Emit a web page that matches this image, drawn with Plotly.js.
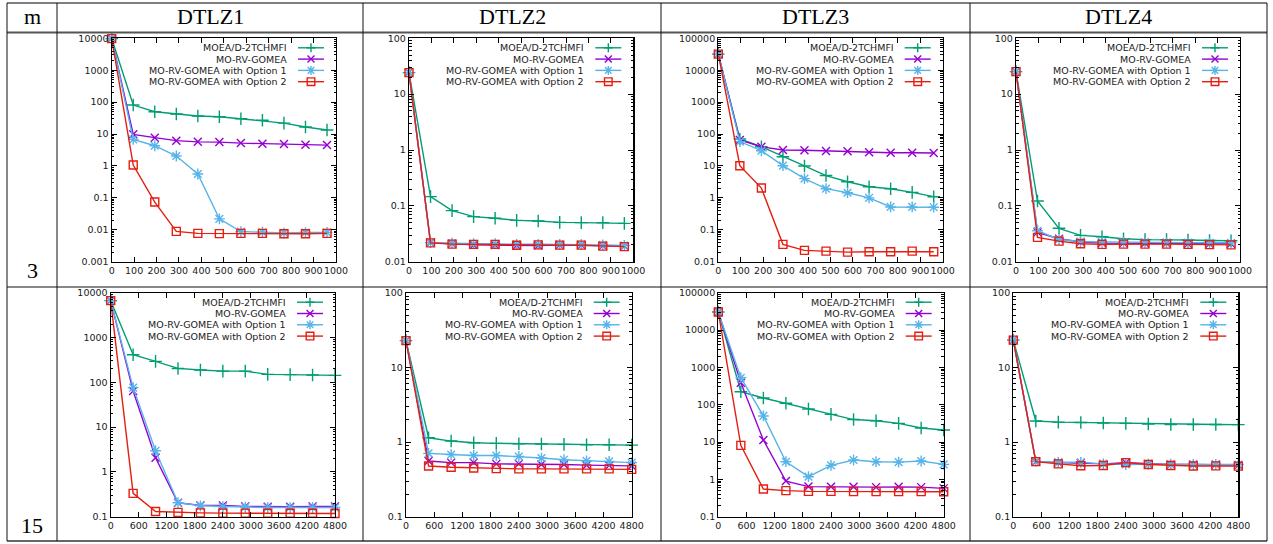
<!DOCTYPE html>
<html><head><meta charset="utf-8">
<script src="https://cdn.plot.ly/plotly-3.0.1.min.js"></script>
<style>html,body{margin:0;padding:0;background:#fff;} #chart{width:1273px;height:544px;}</style>
</head><body><div id="chart"></div>
<script>
// ---------------- DATA ----------------
const problems = ['DTLZ1', 'DTLZ2', 'DTLZ3', 'DTLZ4'];
const mValues = ['3', '15'];
const seriesNames = ['MOEA/D-2TCHMFI', 'MO-RV-GOMEA', 'MO-RV-GOMEA with Option 1', 'MO-RV-GOMEA with Option 2'];

const evalsM3  = [0, 96, 192, 288, 384, 480, 576, 672, 768, 864, 960];
const evalsM15 = [0, 480, 960, 1440, 1920, 2400, 2880, 3360, 3840, 4320, 4800];
const xTicksM3  = [0, 100, 200, 300, 400, 500, 600, 700, 800, 900, 1000];
const xTicksM15 = [0, 600, 1200, 1800, 2400, 3000, 3600, 4200, 4800];

const yTicksD1m3  = [0.001, 0.01, 0.1, 1, 10, 100, 1000, 10000];
const yTicksD2m3  = [0.01, 0.1, 1, 10, 100];
const yTicksD3m3  = [0.01, 0.1, 1, 10, 100, 1000, 10000, 100000];
const yTicksD4m3  = [0.01, 0.1, 1, 10, 100];
const yTicksD1m15 = [0.1, 1, 10, 100, 1000, 10000];
const yTicksD2m15 = [0.1, 1, 10, 100];
const yTicksD3m15 = [0.1, 1, 10, 100, 1000, 10000, 100000];
const yTicksD4m15 = [0.1, 1, 10, 100];

// DTLZ1, m = 3
const d1m3_moead = [9800, 81, 50, 42.5, 36.7, 35, 30, 27, 22, 16.6, 13.4];
const d1m3_gomea = [9800, 9.8, 7.7, 6.2, 5.7, 5.6, 5.2, 5.0, 4.9, 4.6, 4.5];
const d1m3_opt1  = [9800, 6.8, 4.3, 2.05, 0.56, 0.022, 0.0088, 0.0084, 0.0079, 0.0082, 0.0083];
const d1m3_opt2  = [9800, 1.07, 0.074, 0.0089, 0.0077, 0.0076, 0.0077, 0.0077, 0.0075, 0.0075, 0.0077];
// DTLZ2, m = 3
const d2m3_moead = [24.3, 0.146, 0.082, 0.064, 0.060, 0.055, 0.0535, 0.0506, 0.050, 0.050, 0.0486];
const d2m3_gomea = [24.3, 0.022, 0.021, 0.020, 0.0198, 0.0195, 0.0195, 0.0198, 0.0198, 0.0192, 0.019];
const d2m3_opt1  = [24.3, 0.022, 0.0215, 0.021, 0.021, 0.0205, 0.0205, 0.0205, 0.0205, 0.020, 0.0195];
const d2m3_opt2  = [24.3, 0.0217, 0.0206, 0.0204, 0.0204, 0.0197, 0.020, 0.0198, 0.0198, 0.019, 0.0186];
// DTLZ3, m = 3
const d3m3_moead = [32000, 70, 40, 19.5, 10, 5.0, 3.2, 2.24, 1.94, 1.49, 1.09];
const d3m3_gomea = [32000, 65, 40, 31.7, 31, 29.4, 28.7, 26.7, 26, 26, 25.4];
const d3m3_opt1  = [32000, 58, 30, 10.2, 4.0, 1.94, 1.45, 1.0, 0.52, 0.52, 0.51];
const d3m3_opt2  = [32000, 10.2, 2.03, 0.035, 0.0226, 0.0215, 0.020, 0.0205, 0.0205, 0.0215, 0.0205];
// DTLZ4, m = 3
const d4m3_moead = [25.3, 0.122, 0.0396, 0.0296, 0.028, 0.0258, 0.0248, 0.0248, 0.0245, 0.024, 0.0237];
const d4m3_gomea = [25.3, 0.0335, 0.0258, 0.0225, 0.0215, 0.0215, 0.0213, 0.0213, 0.021, 0.021, 0.021];
const d4m3_opt1  = [25.3, 0.0359, 0.025, 0.023, 0.0225, 0.0225, 0.0225, 0.0222, 0.022, 0.0218, 0.0218];
const d4m3_opt2  = [25.3, 0.0273, 0.0234, 0.021, 0.0204, 0.0206, 0.0206, 0.0206, 0.0204, 0.0202, 0.020];
// DTLZ1, m = 15
const d1m15_moead = [6640, 413, 293, 204, 188, 178, 178, 150, 148, 145, 143];
const d1m15_gomea = [6640, 64, 2.07, 0.205, 0.179, 0.179, 0.17, 0.167, 0.167, 0.17, 0.17];
const d1m15_opt1  = [6640, 76, 2.97, 0.205, 0.175, 0.167, 0.164, 0.16, 0.16, 0.16, 0.16];
const d1m15_opt2  = [6640, 0.332, 0.131, 0.125, 0.122, 0.12, 0.12, 0.119, 0.119, 0.119, 0.118];
// DTLZ2, m = 15
const d2m15_moead = [22.8, 1.14, 1.03, 0.98, 0.96, 0.95, 0.94, 0.93, 0.92, 0.92, 0.91];
const d2m15_gomea = [22.8, 0.557, 0.53, 0.53, 0.51, 0.51, 0.50, 0.50, 0.49, 0.485, 0.48];
const d2m15_opt1  = [22.8, 0.705, 0.68, 0.66, 0.66, 0.64, 0.61, 0.58, 0.56, 0.55, 0.53];
const d2m15_opt2  = [22.8, 0.477, 0.46, 0.45, 0.44, 0.437, 0.437, 0.437, 0.437, 0.437, 0.43];
// DTLZ3, m = 15
const d3m15_moead = [30300, 223, 151, 109, 77, 55, 40, 37, 31.6, 23.7, 21];
const d3m15_gomea = [30300, 388, 11.3, 0.90, 0.64, 0.63, 0.63, 0.62, 0.63, 0.62, 0.574];
const d3m15_opt1  = [30300, 528, 50, 2.97, 1.18, 2.37, 3.3, 2.97, 2.9, 3.1, 2.52];
const d3m15_opt2  = [30300, 8.15, 0.55, 0.50, 0.477, 0.477, 0.47, 0.47, 0.47, 0.47, 0.465];
// DTLZ4, m = 15
const d4m15_moead = [23.2, 1.91, 1.85, 1.83, 1.80, 1.78, 1.74, 1.72, 1.72, 1.72, 1.71];
const d4m15_gomea = [23.2, 0.546, 0.53, 0.525, 0.51, 0.53, 0.51, 0.50, 0.50, 0.50, 0.49];
const d4m15_opt1  = [23.2, 0.55, 0.535, 0.535, 0.51, 0.50, 0.505, 0.505, 0.50, 0.50, 0.50];
const d4m15_opt2  = [23.2, 0.546, 0.51, 0.482, 0.485, 0.53, 0.50, 0.485, 0.477, 0.48, 0.475];

// ---------------- LAYOUT HELPERS ----------------
const W = 1273, H = 544;
const fx = p => p / W;
const fy = p => 1 - p / H;
const colors = ['#009e73', '#9400d3', '#56b4e9', '#e51e10'];
const symbols = ['cross-thin-open', 'x-thin-open', 'asterisk-open', 'square-open'];
const msizes = [9, 8, 9, 8];
const tickFont = {family: 'DejaVu Sans', size: 9.5, color: '#1a1a1a'};

const panels = [
  {row: 0, col: 0, frame: [111.7, 336, 38.3, 261.7], xs: evalsM3, xt: xTicksM3, xr: [0, 1000], yt: yTicksD1m3, ys: [d1m3_moead, d1m3_gomea, d1m3_opt1, d1m3_opt2]},
  {row: 0, col: 1, frame: [409, 633.3, 38.3, 261.7], xs: evalsM3, xt: xTicksM3, xr: [0, 1000], yt: yTicksD2m3, ys: [d2m3_moead, d2m3_gomea, d2m3_opt1, d2m3_opt2]},
  {row: 0, col: 2, frame: [718.3, 942.7, 38.3, 261.7], xs: evalsM3, xt: xTicksM3, xr: [0, 1000], yt: yTicksD3m3, ys: [d3m3_moead, d3m3_gomea, d3m3_opt1, d3m3_opt2]},
  {row: 0, col: 3, frame: [1016, 1240, 38.3, 261.7], xs: evalsM3, xt: xTicksM3, xr: [0, 1000], yt: yTicksD4m3, ys: [d4m3_moead, d4m3_gomea, d4m3_opt1, d4m3_opt2]},
  {row: 1, col: 0, frame: [110.7, 335, 292.7, 516.7], xs: evalsM15, xt: xTicksM15, xr: [0, 4800], yt: yTicksD1m15, ys: [d1m15_moead, d1m15_gomea, d1m15_opt1, d1m15_opt2]},
  {row: 1, col: 1, frame: [406, 631.7, 292.7, 516.7], xs: evalsM15, xt: xTicksM15, xr: [0, 4800], yt: yTicksD2m15, ys: [d2m15_moead, d2m15_gomea, d2m15_opt1, d2m15_opt2]},
  {row: 1, col: 2, frame: [718.3, 943.7, 292.7, 516.7], xs: evalsM15, xt: xTicksM15, xr: [0, 4800], yt: yTicksD3m15, ys: [d3m15_moead, d3m15_gomea, d3m15_opt1, d3m15_opt2]},
  {row: 1, col: 3, frame: [1013.3, 1238.3, 292.7, 516.7], xs: evalsM15, xt: xTicksM15, xr: [0, 4800], yt: yTicksD4m15, ys: [d4m15_moead, d4m15_gomea, d4m15_opt1, d4m15_opt2]}
];

const traces = [];
const layout = {
  width: W, height: H,
  margin: {l: 0, r: 0, t: 0, b: 0},
  paper_bgcolor: '#ffffff', plot_bgcolor: '#ffffff',
  showlegend: false,
  shapes: [], annotations: []
};

const markerPaths = [
  'M-4.5,0H4.5M0,-4.5V4.5',
  'M-3.5,-3.5L3.5,3.5M-3.5,3.5L3.5,-3.5',
  'M-4.5,0H4.5M0,-4.5V4.5M-3.3,-3.3L3.3,3.3M-3.3,3.3L3.3,-3.3',
  'M-3.8,-3.8H3.8V3.8H-3.8Z'
];

panels.forEach((p, i) => {
  const k = i + 1;
  const xn = k === 1 ? 'x' : 'x' + k;
  const yn = k === 1 ? 'y' : 'y' + k;
  const [l, r, t, b] = p.frame;
  const minorVals = [];
  p.yt.forEach(v => { for (let m = 2; m <= 9; m++) { if (v * m < p.yt[p.yt.length - 1]) minorVals.push(v * m); } });
  layout[k === 1 ? 'xaxis' : 'xaxis' + k] = {
    domain: [fx(l), fx(r)], anchor: yn, range: p.xr, type: 'linear',
    tickmode: 'array', tickvals: p.xt, ticktext: p.xt.map(String), tickangle: 0,
    ticks: 'inside', ticklen: 5, tickwidth: 1, tickcolor: '#000',
    showline: true, linecolor: '#000', linewidth: 1.2, mirror: 'allticks',
    showgrid: false, zeroline: false, tickfont: tickFont, fixedrange: true
  };
  layout[k === 1 ? 'yaxis' : 'yaxis' + k] = {
    domain: [fy(b), fy(t)], anchor: xn, type: 'log',
    range: [Math.log10(p.yt[0]), Math.log10(p.yt[p.yt.length - 1])],
    tickmode: 'array', tickvals: p.yt, ticktext: p.yt.map(String),
    ticks: 'inside', ticklen: 5, tickwidth: 1, tickcolor: '#000',
    minor: {tickmode: 'array', tickvals: minorVals, ticks: 'inside', ticklen: 2.5, tickwidth: 1, tickcolor: '#000', showgrid: false},
    showline: true, linecolor: '#000', linewidth: 1.2, mirror: 'allticks',
    showgrid: false, zeroline: false, tickfont: tickFont, fixedrange: true
  };
  p.ys.forEach((vals, s) => {
    traces.push({
      type: 'scatter', mode: 'lines+markers', xaxis: xn, yaxis: yn,
      x: p.xs, y: vals, name: seriesNames[s], cliponaxis: false,
      line: {color: colors[s], width: 1.4},
      marker: {symbol: symbols[s], size: msizes[s], color: colors[s], line: {color: colors[s], width: 1.4}}
    });
  });
  // legend (gnuplot style: text right-aligned, then sample)
  seriesNames.forEach((nm, s) => {
    const yy = t + 9.5 + 11.3 * s;
    layout.annotations.push({
      xref: 'paper', yref: 'paper', x: fx(r - 47), y: fy(yy), xanchor: 'right', yanchor: 'middle',
      text: nm, showarrow: false, font: {family: 'DejaVu Sans', size: 9.5, color: '#1a1a1a'}
    });
    layout.shapes.push({
      type: 'line', xref: 'paper', yref: 'paper', x0: fx(r - 38), x1: fx(r - 12), y0: fy(yy), y1: fy(yy),
      line: {color: colors[s], width: 1.4}
    });
    layout.shapes.push({
      type: 'path', xref: 'paper', yref: 'paper', xsizemode: 'pixel', ysizemode: 'pixel',
      xanchor: fx(r - 25), yanchor: fy(yy), path: markerPaths[s],
      line: {color: colors[s], width: 1.4}
    });
  });
});

// ---------------- TABLE ----------------
const colLines = [7, 57, 363, 661, 970, 1267];
const rowTop = 3, headBottom = 32.5, rowMid = 287, rowBottom = 541;
const hline = (y, c, w) => layout.shapes.push({type: 'line', xref: 'paper', yref: 'paper', x0: fx(colLines[0]), x1: fx(colLines[5]), y0: fy(y), y1: fy(y), line: {color: c, width: w}});
hline(rowTop, '#555', 1.5);
hline(headBottom, '#555', 2);
hline(rowMid, '#111', 1);
hline(rowBottom, '#333', 1.5);
colLines.forEach(x => layout.shapes.push({type: 'line', xref: 'paper', yref: 'paper', x0: fx(x), x1: fx(x), y0: fy(rowTop), y1: fy(rowBottom), line: {color: '#111', width: 1}}));

const serif = {family: 'Liberation Serif', size: 22, color: '#000'};
layout.annotations.push({xref: 'paper', yref: 'paper', x: fx(32), y: fy(16.5), xanchor: 'center', yanchor: 'middle', text: 'm', showarrow: false, font: serif});
problems.forEach((pr, c) => {
  const cx = (colLines[c + 1] + colLines[c + 2]) / 2;
  layout.annotations.push({xref: 'paper', yref: 'paper', x: fx(cx), y: fy(16.5), xanchor: 'center', yanchor: 'middle', text: pr, showarrow: false, font: serif});
});
layout.annotations.push({xref: 'paper', yref: 'paper', x: fx(32), y: fy(270), xanchor: 'center', yanchor: 'middle', text: mValues[0], showarrow: false, font: serif});
layout.annotations.push({xref: 'paper', yref: 'paper', x: fx(32), y: fy(525), xanchor: 'center', yanchor: 'middle', text: mValues[1], showarrow: false, font: serif});

Plotly.newPlot('chart', traces, layout, {staticPlot: true, displayModeBar: false});
</script>
</body></html>
